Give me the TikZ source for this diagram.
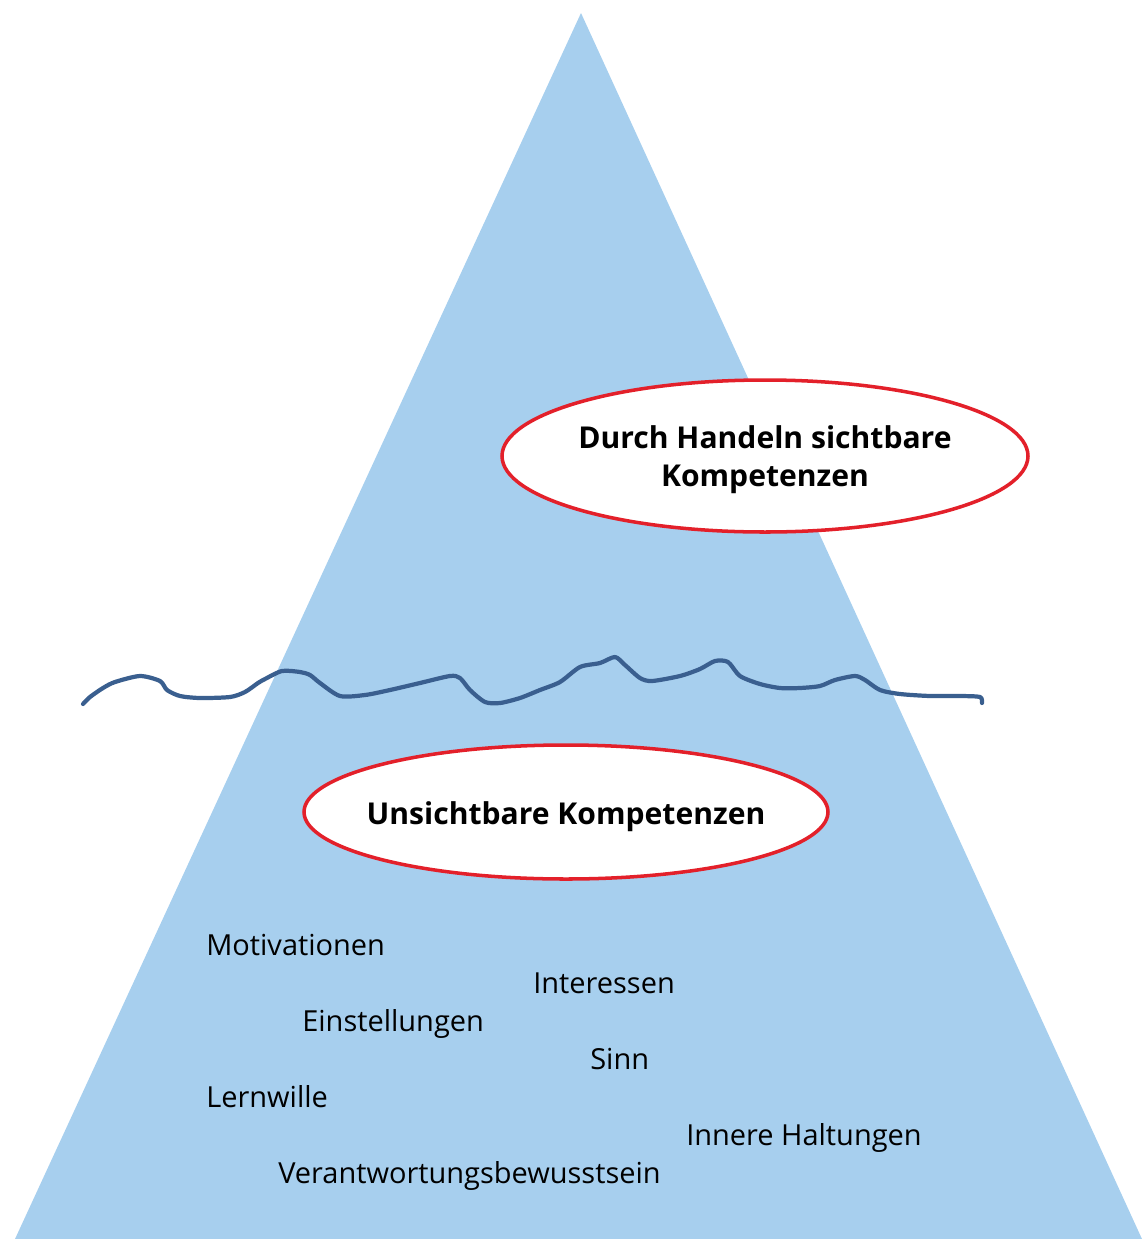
\documentclass[tikz,border=0pt]{standalone}
\usepackage{fontspec}
\setmainfont{Open Sans}
\definecolor{ice}{HTML}{A7CFEE}
\definecolor{wave}{HTML}{3A5F8F}
\definecolor{ring}{HTML}{E3202A}
\begin{document}
\begin{tikzpicture}[x=0.025cm,y=-0.025cm,
  item/.style={anchor=base west, font=\fontsize{20.6}{24}\selectfont, inner sep=0pt}]
\useasboundingbox (0,0) rectangle (1142,1239);
\fill[ice] (581,13) -- (1142,1239) -- (15,1239) -- cycle;
\draw[wave, line width=3pt, line cap=round, line join=round] plot[smooth, tension=0.45] coordinates {
(83,704) (90,697) (103,688) (115,682) (140,676) (160,681) (167,690) (180,696) (200,698) (230,697) (245,692) (258,683) (265,679) (282,671) (300,672) (310,675) (320,683) (340,696) (365,695) (390,690) (420,683) (450,676) (460,678) (470,690) (485,702) (500,703) (520,698) (540,690) (560,682) (580,667) (600,663) (615,657) (625,665) (640,678) (652,681) (680,676) (700,669) (715,661) (728,662) (740,676) (760,684) (780,688) (800,688) (820,686) (835,680) (855,676) (865,680) (880,690) (900,694) (930,696) (960,696) (980,697) (982,703)};
\draw[ring, line width=2.5pt, fill=white] (765,456) ellipse [x radius=263, y radius=76];
\node[font=\fontsize{21.4}{27.2}\selectfont\bfseries, align=center] (visible) at (765,460) {Durch Handeln sichtbare\\Kompetenzen};
\draw[ring, line width=2.5pt, fill=white] (566,812) ellipse [x radius=262, y radius=67];
\node[font=\fontsize{21.4}{25}\selectfont\bfseries] (invisible) at (566,817) {Unsichtbare Kompetenzen};
\node[item] (mot) at (206,955) {Motivationen};
\node[item] (int) at (533,993) {Interessen};
\node[item] (ein) at (302,1031) {Einstellungen};
\node[item] (sinn) at (590,1069) {Sinn};
\node[item] (lern) at (206,1107) {Lernwille};
\node[item] (inn) at (686,1145) {Innere Haltungen};
\node[item] (ver) at (278,1183) {Verantwortungsbewusstsein};
\end{tikzpicture}
\end{document}
